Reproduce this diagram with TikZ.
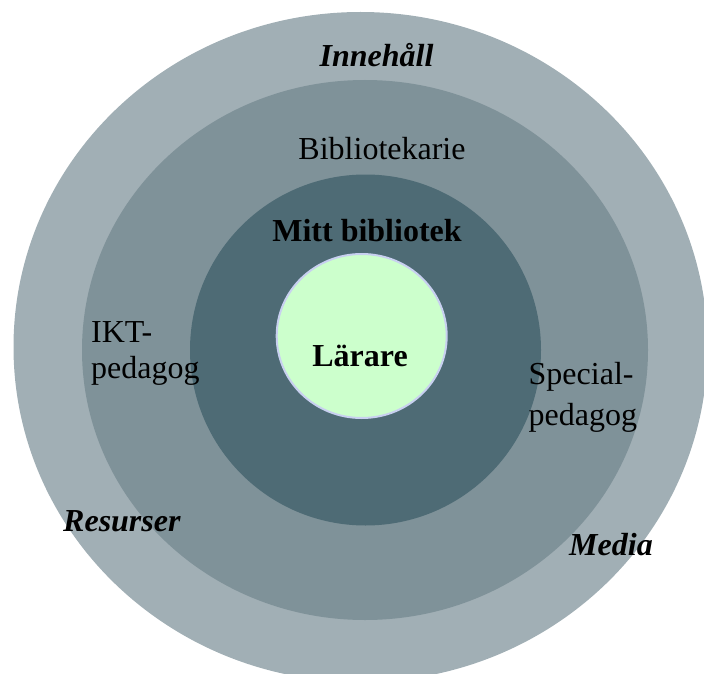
\documentclass[tikz,border=0pt]{standalone}
\usepackage{fontspec}
\setmainfont{Liberation Serif}
\usetikzlibrary{positioning}
\definecolor{ringout}{RGB}{161,175,181}
\definecolor{ringmid}{RGB}{127,146,153}
\definecolor{ringin}{RGB}{78,107,117}
\definecolor{corefill}{RGB}{204,255,204}
\definecolor{coreline}{RGB}{200,208,240}

\begin{document}
\begin{tikzpicture}[x=1pt,y=-1pt,
  lbl/.style={font=\fontsize{32}{37}\selectfont,anchor=base,inner sep=0pt},
  lblb/.style={lbl,font=\fontsize{32}{37}\selectfont\bfseries},
  lblbi/.style={lbl,font=\fontsize{32}{37}\selectfont\bfseries\itshape}]
  \useasboundingbox (0,0) rectangle (704,674);
  \clip (0,0) rectangle (704,674);
  % rings, outside in
  \fill[ringout] (360.5,347) ellipse [x radius=347pt,y radius=335pt];
  \fill[ringmid] (365,350) ellipse [x radius=283pt,y radius=270pt];
  \fill[ringin] (365.5,350) circle (175.5pt);
  \draw[line width=2pt,coreline,fill=corefill] (361.7,336) ellipse [x radius=85pt,y radius=82pt];
  % labels
  \node[lblbi] (innehall) at (376.5,66.6) {Innehåll};
  \node[lbl] (bibl) at (382,160) {Bibliotekarie};
  \node[lblb] (mitt) at (367,241.6) {Mitt bibliotek};
  \node[lblb] (larare) at (360,366) {Lärare};
  \node[lbl,anchor=base west] (ikt1) at (91,342.6) {IKT-};
  \node[lbl,anchor=base west] (ikt2) at (91,378.5) {pedagog};
  \node[lbl,anchor=base west] (spec1) at (528.5,384) {Special-};
  \node[lbl,anchor=base west] (spec2) at (528.5,425.5) {pedagog};
  \node[lblbi,anchor=base west] (resurser) at (63,531) {Resurser};
  \node[lblbi,anchor=base west] (media) at (569,555.5) {Media};
\end{tikzpicture}
\end{document}
